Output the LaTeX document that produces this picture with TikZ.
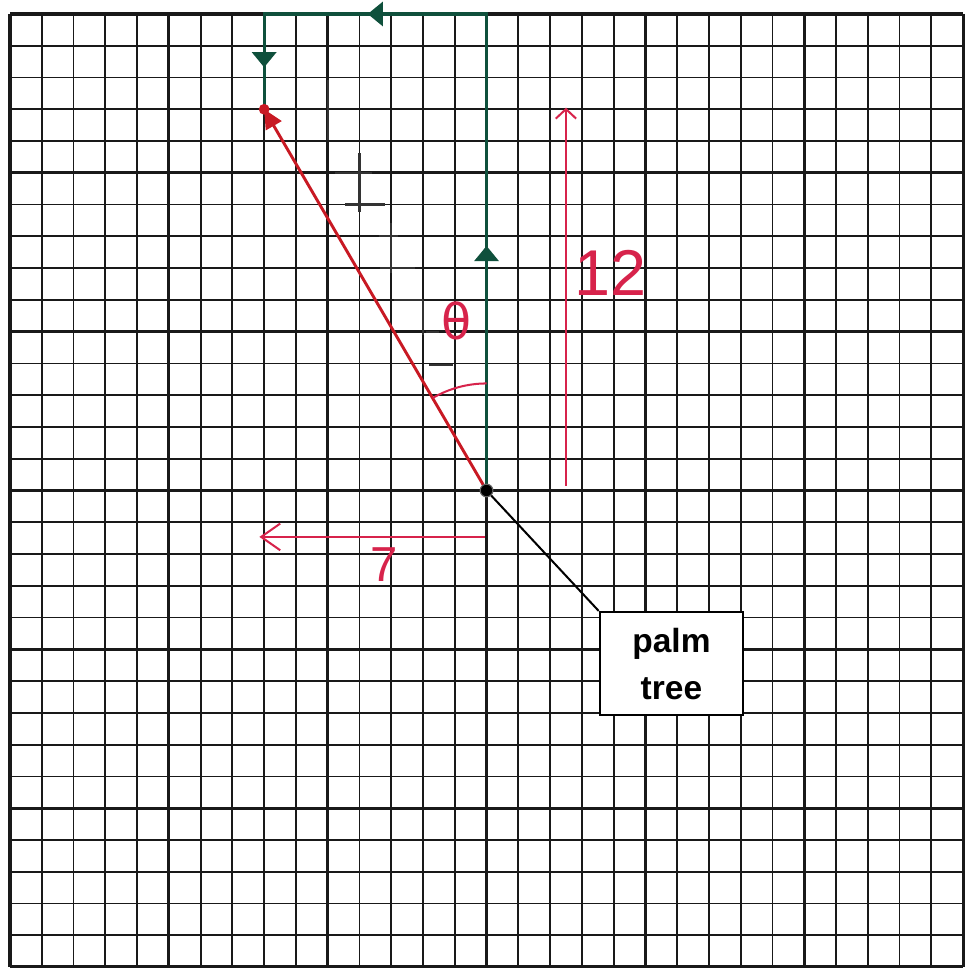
\documentclass[tikz,border=0pt]{standalone}
\usepackage{fontspec}
\newfontfamily\boxfont{Liberation Sans}
\newfontfamily\handfont{DejaVu Sans}
\newfontfamily\numfont{Liberation Sans}
\usetikzlibrary{arrows.meta,decorations.markings}
\definecolor{gpen}{RGB}{15,80,60}
\definecolor{rpen}{RGB}{200,25,35}
\definecolor{dpen}{RGB}{215,35,75}
\definecolor{gridc}{RGB}{25,25,25}
\tikzset{gtri/.tip={Triangle[length=0.24cm,width=0.38cm]}}
\begin{document}
\begin{tikzpicture}[x=0.5cm,y=0.5cm,
  minorline/.style={line width=0.8pt, draw=gridc},
  majorline/.style={line width=1.4pt, draw=gridc},
  greenline/.style={draw=gpen, line width=1.4pt},
  redline/.style={draw=rpen, line width=1.3pt},
  dimline/.style={draw=dpen, line width=0.9pt},
  pencil/.style={draw=black!80, line width=1pt},
  handlabel/.style={text=dpen, inner sep=0pt},
  boxstyle/.style={draw=black, line width=1.1pt, fill=white, align=center,
    minimum width=2.25cm, minimum height=1.62cm, inner sep=0pt,
    font=\boxfont\bfseries\fontsize{15}{21}\selectfont}
]
\useasboundingbox (-0.315,0.44) rectangle (30.094,-30.03);
\fill[white] (-0.315,0.44) rectangle (30.094,-30.03);
% grid
\foreach \i in {0,...,30} {
  \draw[minorline] (\i,0) -- (\i,-30);
  \draw[minorline] (0,-\i) -- (30,-\i);
}
\foreach \i in {0,5,...,30} {
  \draw[majorline] (\i,0) -- (\i,-30);
  \draw[majorline] (0,-\i) -- (30,-\i);
}
% faint pencil staircase
\draw[pencil] (10,-2.08) -- (10,-3.97);
\draw[pencil] (10.23,-5) -- (11.4,-5);
\draw[pencil] (11,-4.38) -- (11,-6.23);
\draw[pencil] (10.55,-6) -- (11.8,-6);
\draw[pencil] (12,-6.58) -- (12,-8.15);
\draw[pencil] (11.6,-7) -- (12.2,-7);
\draw[pencil] (11.65,-8) -- (12.75,-8);
\draw[pencil] (12.1,-9) -- (13,-9);
\draw[pencil] (13,-9) -- (13,-10.1);
\draw[pencil] (13.1,-10) -- (13.5,-10);
\draw[pencil] (13.2,-11.05) -- (13.95,-11.05);
% key points
\coordinate (palm) at (15,-15);
\coordinate (tr) at (15,0);
\coordinate (tl) at (8,0);
\coordinate (tip) at (8,-3);
% green path
\draw[greenline, postaction={decorate}, decoration={markings,
   mark=at position 3.85cm with {\arrow[gpen]{gtri}},
   mark=at position 9.37cm with {\arrow[gpen]{gtri}},
   mark=at position 11.84cm with {\arrow[gpen]{gtri}}}]
  (palm) -- (tr) -- (tl) -- (tip);
% red vector
\draw[redline, -{Triangle[length=0.3cm,width=0.28cm]}] (palm) -- (tip);
\fill[rpen] (tip) circle (0.17);
% angle arc
\draw[dimline] (15,-11.63) arc[start angle=90, end angle=120.26, radius=3.37];
\node[handlabel, font=\handfont\fontsize{22}{22}\selectfont] (theta) at (14.04,-9.66) {θ};
% dimension 12
\coordinate (d12a) at (17.5,-14.85);
\coordinate (d12b) at (17.5,-2.95);
\draw[dimline, -{Straight Barb[length=0.15cm,width=0.32cm]}] (d12a) -- (d12b);
\node[handlabel, font=\numfont\fontsize{29}{29}\selectfont] (l12) at (18.89,-8.15) {12};
% dimension 7
\coordinate (d7a) at (14.95,-16.46);
\coordinate (d7b) at (7.85,-16.46);
\draw[dimline, -{Straight Barb[length=0.3cm,width=0.42cm]}] (d7a) -- (d7b);
\node[handlabel, font=\numfont\fontsize{22}{22}\selectfont] (l7) at (11.77,-17.34) {7};
% palm tree label
\node[boxstyle] (box) at (20.82,-20.45) {palm\\tree};
\draw[line width=0.9pt, black] (palm) -- (box.north west);
\fill[black] (palm) circle (0.2);
\draw[black!60, line width=0.5pt] (palm) circle (0.2);
\end{tikzpicture}
\end{document}
